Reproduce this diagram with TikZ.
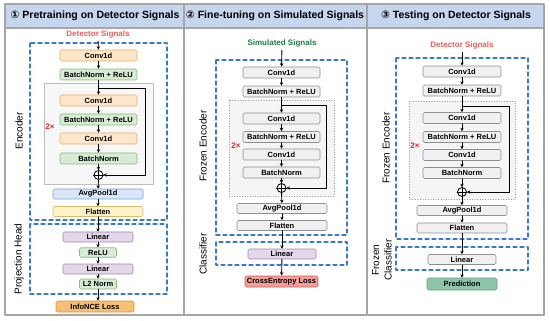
\documentclass[tikz,border=0pt]{standalone}
\usepackage{fontspec}
\setmainfont{Liberation Sans}
\newfontfamily\circfont{DejaVu Sans}
\usetikzlibrary{arrows.meta}

\definecolor{framegray}{HTML}{A6A6A6}
\definecolor{titlefill}{HTML}{C6D6EE}
\definecolor{dashblue}{HTML}{3A78C9}
\definecolor{convfill}{HTML}{FDE6C9}
\definecolor{convline}{HTML}{E6AE6A}
\definecolor{bnfill}{HTML}{D8EBD5}
\definecolor{bnline}{HTML}{8DBA79}
\definecolor{poolfill}{HTML}{DAE7F9}
\definecolor{poolline}{HTML}{7F9FCC}
\definecolor{flatfill}{HTML}{FFF1C9}
\definecolor{flatline}{HTML}{D8BD6A}
\definecolor{linfill}{HTML}{E4D7EA}
\definecolor{linline}{HTML}{A187B1}
\definecolor{nceefill}{HTML}{F7BE77}
\definecolor{nceline}{HTML}{D9962E}
\definecolor{frzfill}{HTML}{F0F0F0}
\definecolor{frzline}{HTML}{8F8F8F}
\definecolor{cefill}{HTML}{F29E99}
\definecolor{celine}{HTML}{C2625D}
\definecolor{predfill}{HTML}{8EC4AA}
\definecolor{predline}{HTML}{6E9F86}
\definecolor{detred}{HTML}{F2595B}
\definecolor{simgreen}{HTML}{1E7B3E}
\definecolor{twored}{HTML}{E8262B}

\begin{document}
\begin{tikzpicture}[x=1pt,y=-1pt,line cap=round,line join=round,
  >={Stealth[length=3.4pt,width=3.4pt]},
  blk/.style={draw,rounded corners=1.5pt,line width=0.7pt,minimum height=11pt,
    inner sep=0pt,font=\fontsize{7.5}{8}\selectfont\bfseries},
  conv/.style={blk,fill=convfill,draw=convline},
  bnorm/.style={blk,fill=bnfill,draw=bnline},
  pool/.style={blk,fill=poolfill,draw=poolline,minimum height=10pt},
  flat/.style={blk,fill=flatfill,draw=flatline,minimum height=10pt},
  lin/.style={blk,fill=linfill,draw=linline,minimum height=10pt},
  frz/.style={blk,fill=frzfill,draw=frzline},
  plusnode/.style={circle,draw,line width=0.8pt,minimum size=9pt,inner sep=0pt},
  flow/.style={line width=0.9pt,->},
  encbox/.style={draw=dashblue,line width=1.3pt,dash pattern=on 4pt off 3pt},
  sidelbl/.style={rotate=90,font=\fontsize{10}{11}\selectfont},
  titlelbl/.style={font=\fontsize{10.5}{12}\selectfont\bfseries},
  inlbl/.style={font=\fontsize{8}{9}\selectfont\bfseries},
  twox/.style={text=twored,font=\fontsize{8}{9}\selectfont\bfseries}]
  \useasboundingbox (0,0) rectangle (550,321);

  % frame and title bars
  \fill[titlefill] (5,4) rectangle (544,28);
  \draw[framegray,line width=1.1pt] (5,4) rectangle (544,315);
  \draw[framegray,line width=1.1pt] (5,28) -- (544,28);
  \draw[framegray,line width=1.1pt] (184,4) -- (184,315);
  \draw[framegray,line width=1.1pt] (367,4) -- (367,315);
  \node[titlelbl] (t1) at (95,16) {{\circfont\bfseries ①} Pretraining on Detector Signals};
  \node[titlelbl] (t2) at (275,16) {{\circfont\bfseries ②} Fine-tuning on Simulated Signals};
  \node[titlelbl] (t3) at (456,16) {{\circfont\bfseries ③} Testing on Detector Signals};

  % panel 1
  \draw[encbox] (30,43) rectangle (167,220);
  \draw[encbox] (30,224) rectangle (167,294);
  \draw[fill=black!3,draw=black!25,line width=0.7pt] (44,83) rectangle (153,184);
  \node[sidelbl] (e1) at (19,131) {Encoder};
  \node[sidelbl] (h1) at (19,259) {Projection Head};
  \node[inlbl,text=detred] (in1) at (98,34) {Detector Signals};
  \node[conv,minimum width=77pt] (c1a) at (98.5,55.5) {Conv1d};
  \node[bnorm,minimum width=77pt] (b1a) at (98.5,74.5) {BatchNorm + ReLU};
  \node[conv,minimum width=77pt] (c1b) at (98.5,100.5) {Conv1d};
  \node[bnorm,minimum width=77pt] (b1b) at (98.5,119.5) {BatchNorm + ReLU};
  \node[conv,minimum width=77pt] (c1c) at (98.5,138.5) {Conv1d};
  \node[bnorm,minimum width=77pt] (n1) at (98.5,158.5) {BatchNorm};
  \node[plusnode] (p1) at (98.5,175) {};
  \draw[line width=0.8pt] (p1.north) -- (p1.south) (p1.west) -- (p1.east);
  \node[twox] (x1) at (50,127) {2×};
  \node[pool,minimum width=90pt] (a1) at (98,194) {AvgPool1d};
  \node[flat,minimum width=90pt] (f1) at (98,211.5) {Flatten};
  \node[lin,minimum width=70pt] (l1a) at (98,237) {Linear};
  \node[bnorm,minimum width=37pt,minimum height=9.5pt] (r1) at (98,252.5) {ReLU};
  \node[lin,minimum width=70pt] (l1b) at (98,269) {Linear};
  \node[bnorm,minimum width=37pt,minimum height=10pt] (m1) at (98,284) {L2 Norm};
  \node[blk,fill=nceefill,draw=nceline,minimum width=78pt] (loss1) at (95,306.5) {InfoNCE Loss};
  \coordinate (s1) at (98.5,88);
  \coordinate (k1) at (145,88);
  \draw[flow] (in1) -- (c1a);
  \draw[flow] (c1a) -- (b1a);
  \draw[line width=0.9pt] (b1a) -- (s1);
  \draw[flow] (s1) -- (c1b);
  \draw[flow] (s1) -- (k1) |- (p1.east);
  \draw[flow] (c1b) -- (b1b);
  \draw[flow] (b1b) -- (c1c);
  \draw[flow] (c1c) -- (n1);
  \draw[flow] (n1) -- (p1);
  \draw[flow] (p1) -- (a1);
  \draw[flow] (a1) -- (f1);
  \draw[flow] (f1) -- (l1a);
  \draw[flow] (l1a) -- (r1);
  \draw[flow] (r1) -- (l1b);
  \draw[flow] (l1b) -- (m1);
  \draw[flow] (m1.south) -- (m1.south |- loss1.north);

  % panel 2
  \draw[encbox] (216,60) rectangle (347,235);
  \draw[encbox] (216,242) rectangle (347,265);
  \draw[fill=black!4,draw=black!40,line width=0.6pt,dotted] (229,100) rectangle (334,196);
  \node[sidelbl] (e2) at (203,146) {Frozen Encoder};
  \node[sidelbl] (h2) at (203,254) {Classifier};
  \node[inlbl,text=simgreen] (in2) at (282,43) {Simulated Signals};
  \node[frz,minimum width=77pt] (c2a) at (281.5,72.5) {Conv1d};
  \node[frz,minimum width=77pt] (b2a) at (281.5,91.5) {BatchNorm + ReLU};
  \node[frz,minimum width=77pt] (c2b) at (281.5,118.5) {Conv1d};
  \node[frz,minimum width=77pt] (b2b) at (281.5,137) {BatchNorm + ReLU};
  \node[frz,minimum width=77pt] (c2c) at (281.5,154.5) {Conv1d};
  \node[frz,minimum width=77pt] (n2) at (281.5,172.5) {BatchNorm};
  \node[plusnode] (p2) at (281.5,188) {};
  \draw[line width=0.8pt] (p2.north) -- (p2.south) (p2.west) -- (p2.east);
  \node[twox] (x2) at (236,146) {2×};
  \node[frz,minimum width=90pt,minimum height=10pt] (a2) at (282,208.5) {AvgPool1d};
  \node[frz,minimum width=90pt,minimum height=10pt] (f2) at (282,225.5) {Flatten};
  \node[lin,minimum width=68pt] (l2) at (282,254) {Linear};
  \node[blk,fill=cefill,draw=celine,minimum width=73pt] (loss2) at (281.5,281.5) {CrossEntropy Loss};
  \coordinate (s2) at (281.5,105);
  \coordinate (k2) at (326,105);
  \draw[flow] (in2) -- (c2a);
  \draw[flow] (c2a) -- (b2a);
  \draw[line width=0.9pt] (b2a) -- (s2);
  \draw[flow] (s2) -- (c2b);
  \draw[flow] (s2) -- (k2) |- (p2.east);
  \draw[flow] (c2b) -- (b2b);
  \draw[flow] (b2b) -- (c2c);
  \draw[flow] (c2c) -- (n2);
  \draw[flow] (n2) -- (p2);
  \draw[flow] (p2) -- (a2);
  \draw[flow] (a2) -- (f2);
  \draw[flow] (f2) -- (l2);
  \draw[flow] (l2) -- (loss2);

  % panel 3
  \draw[encbox] (396,58) rectangle (528,239);
  \draw[encbox] (396,247) rectangle (528,270);
  \draw[fill=black!4,draw=black!40,line width=0.6pt,dotted] (409,101) rectangle (515,199);
  \node[sidelbl] (e3) at (386,148) {Frozen Encoder};
  \node[sidelbl,align=center,font=\fontsize{10}{12.5}\selectfont] (h3) at (382,260) {Frozen\\Classifier};
  \node[inlbl,text=detred] (in3) at (462,45) {Detector Signals};
  \node[frz,minimum width=78pt] (c3a) at (462,71.5) {Conv1d};
  \node[frz,minimum width=78pt] (b3a) at (462,90.5) {BatchNorm + ReLU};
  \node[frz,minimum width=78pt] (c3b) at (462,118) {Conv1d};
  \node[frz,minimum width=78pt] (b3b) at (462,137) {BatchNorm + ReLU};
  \node[frz,minimum width=78pt] (c3c) at (462,155) {Conv1d};
  \node[frz,minimum width=78pt] (n3) at (462,173) {BatchNorm};
  \node[plusnode] (p3) at (462,192) {};
  \draw[line width=0.8pt] (p3.north) -- (p3.south) (p3.west) -- (p3.east);
  \node[twox] (x3) at (415,146) {2×};
  \node[frz,minimum width=90pt,minimum height=10pt] (a3) at (462,210.5) {AvgPool1d};
  \node[frz,minimum width=90pt,minimum height=10pt] (f3) at (462,228) {Flatten};
  \node[frz,minimum width=68pt,minimum height=10pt] (l3) at (462,259.5) {Linear};
  \node[blk,fill=predfill,draw=predline,minimum width=70pt,minimum height=12pt] (pr3) at (462,284) {Prediction};
  \coordinate (s3) at (462,106);
  \coordinate (k3) at (509,106);
  \draw[flow] (in3) -- (c3a);
  \draw[flow] (c3a) -- (b3a);
  \draw[line width=0.9pt] (b3a) -- (s3);
  \draw[flow] (s3) -- (c3b);
  \draw[flow] (s3) -- (k3) |- (p3.east);
  \draw[flow] (c3b) -- (b3b);
  \draw[flow] (b3b) -- (c3c);
  \draw[flow] (c3c) -- (n3);
  \draw[flow] (n3) -- (p3);
  \draw[flow] (p3) -- (a3);
  \draw[flow] (a3) -- (f3);
  \draw[flow] (f3) -- (l3);
  \draw[flow] (l3) -- (pr3);
\end{tikzpicture}
\end{document}
